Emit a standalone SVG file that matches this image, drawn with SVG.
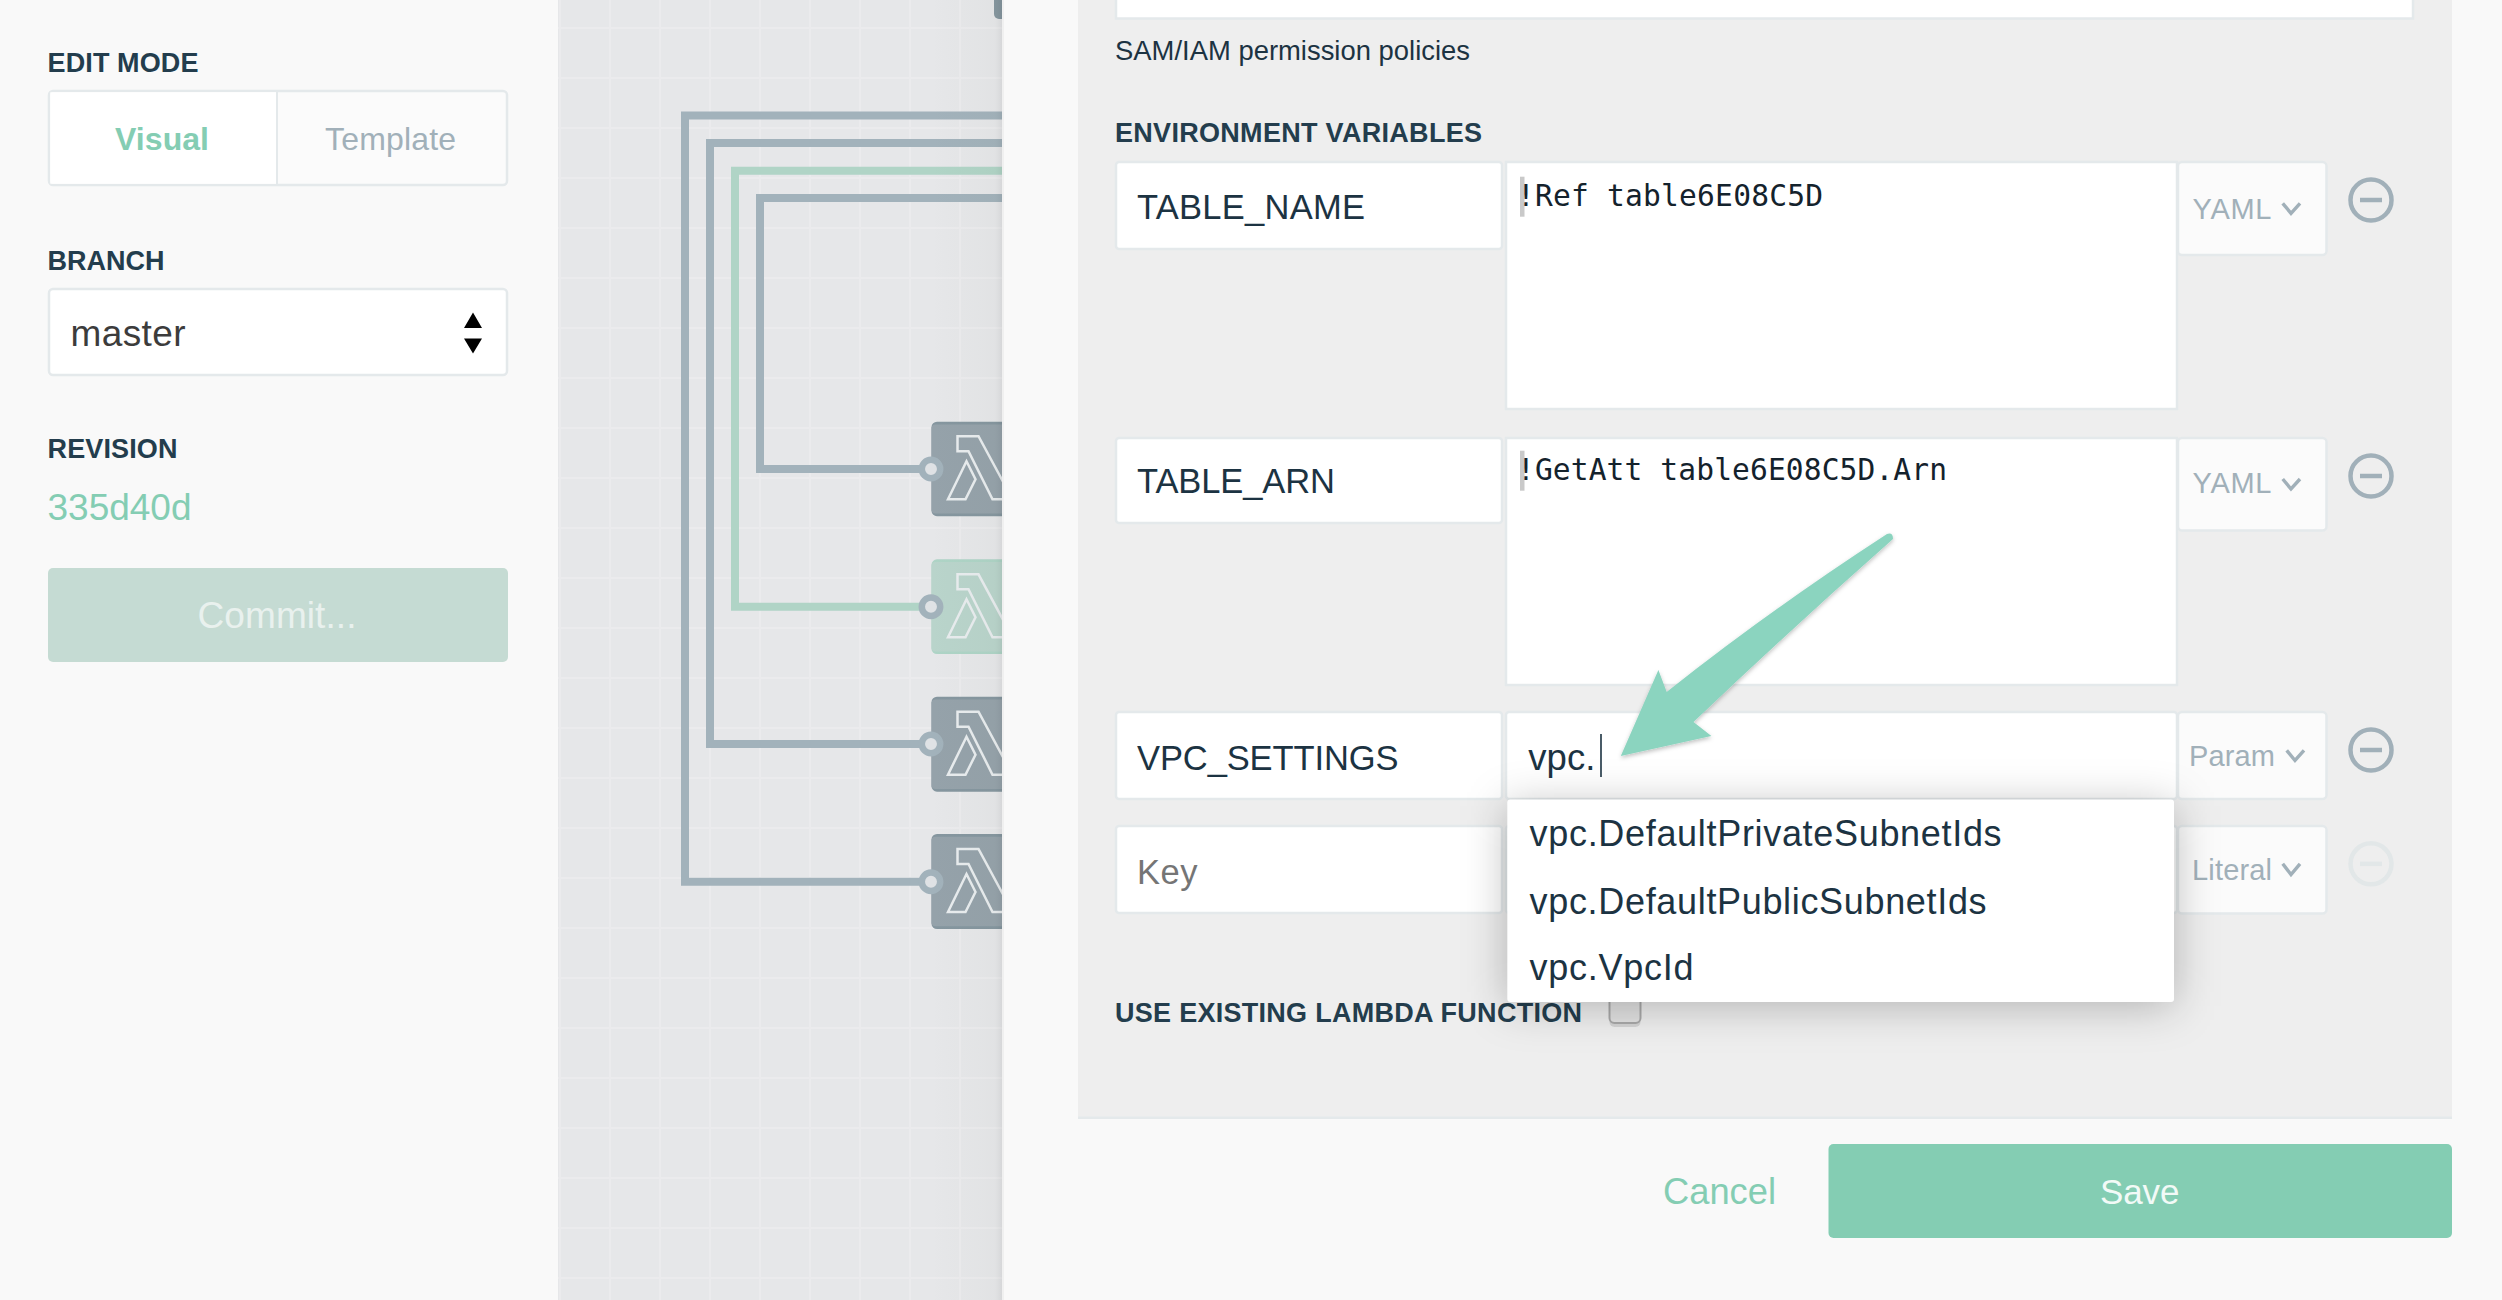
<svg xmlns="http://www.w3.org/2000/svg" width="2502" height="1300" viewBox="0 0 2502 1300">
<style>
text{font-family:"Liberation Sans",Arial,sans-serif}
.h{font-weight:700;font-size:27px;fill:#233d4d}
.k{font-size:34.5px;fill:#1c3342}
.m{font-family:"DejaVu Sans Mono",monospace;font-size:29.6px;fill:#14222c}
.t{font-size:29px;fill:#a1b0b9}
.i{font-size:36px;fill:#1c3342}
.box{fill:#fff;stroke:#e4e9eb;stroke-width:2.5}
.type{fill:#fbfbfb;stroke:#e4e9eb;stroke-width:2.5}
.wire{fill:none;stroke:#a2b2bb;stroke-width:8;stroke-linejoin:miter}
.wg{stroke:#b0d4c6}
.port{fill:#dfe2e5;stroke:#a2b2bb;stroke-width:6.5}
.nb{fill:#85969f}
.nf{fill:#95a2aa}
.lam{fill:none;stroke:#e8ecee;stroke-width:2.5}
.chev{fill:none;stroke:#a1b0b9;stroke-width:3.4}
.minus{fill:none;stroke:#a1b0b9;stroke-width:4.5}
.sel{fill:#c9c9c9}
.grid{stroke:#ebebed;stroke-width:2;fill:none}
</style>
<defs>
<linearGradient id="edge" x1="0" y1="0" x2="1" y2="0">
<stop offset="0" stop-color="#5a5f4f" stop-opacity="0"/>
<stop offset=".75" stop-color="#5a5f4f" stop-opacity=".025"/>
<stop offset=".9" stop-color="#5a5f4f" stop-opacity=".035"/>
<stop offset="1" stop-color="#000" stop-opacity=".07"/>
</linearGradient>
<filter id="dd" x="-30%" y="-60%" width="160%" height="240%"><feGaussianBlur stdDeviation="22"/></filter>
<filter id="as" x="-10%" y="-10%" width="120%" height="120%"><feDropShadow dx="0" dy="2" stdDeviation="2" flood-color="#000" flood-opacity=".25"/></filter>
<g id="lambda">
<path class="lam" d="M26,15H47L81,78H61L37,30H26Z"/>
<path class="lam" d="M35,40L44,58L34,78H16.500Z"/>
</g>
</defs>

<rect id="background" width="2502" height="1300" fill="#f9f9f9"/>

<g id="canvas">
<rect x="558" width="444" height="1300" fill="#e6e7e9"/>
<path class="grid" d="M560,0V1300M610,0V1300M660,0V1300M710,0V1300M760,0V1300M810,0V1300M860,0V1300M910,0V1300M960,0V1300M558,28H1002M558,78H1002M558,128H1002M558,178H1002M558,228H1002M558,278H1002M558,328H1002M558,378H1002M558,428H1002M558,478H1002M558,528H1002M558,578H1002M558,628H1002M558,678H1002M558,728H1002M558,778H1002M558,828H1002M558,878H1002M558,928H1002M558,978H1002M558,1028H1002M558,1078H1002M558,1128H1002M558,1178H1002M558,1228H1002M558,1278H1002"/>
</g>

<g id="connectors">
<path class="wire" d="M931,881.700H685V115.500H1010"/>
<path class="wire" d="M931,744H710V143H1010"/>
<path class="wire wg" d="M931,606.700H735V170.700H1010"/>
<path class="wire" d="M931,469H760V198H1010"/>
</g>

<g id="node-top"><rect class="nb" x="994" y="-60" width="30" height="79" rx="5"/></g>
<g id="node-1">
<rect class="nb" x="931.500" y="421.700" width="90" height="94.500" rx="5.500"/>
<rect class="nf" x="931.500" y="424.500" width="90" height="89" rx="4"/>
<use href="#lambda" x="931.500" y="421.200"/>
<circle class="port" cx="931" cy="469" r="9.200"/>
</g>
<g id="node-2">
<rect fill="#aed4c6" x="931.500" y="559.300" width="90" height="94.700" rx="5.500"/>
<rect fill="#b9d4cb" x="931.500" y="562" width="90" height="89.500" rx="4"/>
<use href="#lambda" x="931.500" y="559.300"/>
<circle class="port" cx="931" cy="606.700" r="9.200"/>
</g>
<g id="node-3">
<rect class="nb" x="931.500" y="696.700" width="90" height="95" rx="5.500"/>
<rect class="nf" x="931.500" y="699.500" width="90" height="89.500" rx="4"/>
<use href="#lambda" x="931.500" y="696.700"/>
<circle class="port" cx="931" cy="744" r="9.200"/>
</g>
<g id="node-4">
<rect class="nb" x="931.500" y="834" width="90" height="95" rx="5.500"/>
<rect class="nf" x="931.500" y="836.800" width="90" height="89.500" rx="4"/>
<use href="#lambda" x="931.500" y="834"/>
<circle class="port" cx="931" cy="881.700" r="9.200"/>
</g>

<rect id="panel-edge" x="930" width="72" height="1300" fill="url(#edge)"/>

<g id="sidebar">
<rect width="558" height="1300" fill="#f9f9f9"/>
<text class="h" x="47.500" y="71.500" textLength="151">EDIT MODE</text>
<g id="edit-mode">
<rect class="type" x="49" y="91" width="458" height="94" rx="4" fill="#fafafa"/>
<path d="M50.300,92.300H277V183.700H50.300Z" fill="#fff"/>
<path d="M277,92V184" stroke="#e4e9eb" stroke-width="2"/>
<text x="162" y="149.500" text-anchor="middle" font-size="32" font-weight="700" fill="#84cdb3" textLength="94">Visual</text>
<text x="390.500" y="149.500" text-anchor="middle" font-size="32" fill="#a1b0b9" textLength="131">Template</text>
</g>
<text class="h" x="47.500" y="269.500" textLength="117">BRANCH</text>
<g id="branch">
<rect class="box" x="49" y="289" width="458" height="86" rx="4"/>
<text x="70.500" y="346" font-size="37" fill="#3c3c3c" textLength="115">master</text>
<path d="M473,312.500L482,328H464Z M464,338.500H482L473,353.500Z" fill="#000"/>
</g>
<text class="h" x="47.500" y="457.500" textLength="130">REVISION</text>
<text x="47.500" y="519.500" font-size="37" fill="#84cdb3" textLength="144">335d40d</text>
<g id="commit">
<rect x="48" y="568" width="460" height="94" rx="5" fill="#c5dbd3"/>
<text x="277" y="627.500" text-anchor="middle" font-size="37" fill="#e9f1ee" textLength="159">Commit...</text>
</g>
</g>

<g id="panel">
<rect x="1002" width="1500" height="1300" fill="#f9f9f9"/>
<rect x="1002" width="2" height="1300" fill="#f0f0f0"/>
<rect x="1078" width="1374" height="1117" fill="#eeeeee"/>
<rect x="1078" y="1116.500" width="1374" height="2.500" fill="#e4e9eb"/>
<rect class="box" x="1116" y="-10" width="1297" height="28.500"/>
<text x="1115" y="60" font-size="27.400" fill="#1c3342" textLength="355">SAM/IAM permission policies</text>
<text class="h" x="1115" y="141.700" textLength="367">ENVIRONMENT VARIABLES</text>

<g id="row-table-name">
<rect class="box" x="1116" y="162" width="386" height="87" rx="3"/>
<text class="k" x="1137" y="219" textLength="228">TABLE_NAME</text>
<rect class="box" x="1506" y="162" width="671" height="247"/>
<rect class="sel" x="1520" y="176.700" width="4.500" height="40"/>
<text class="m" x="1517" y="206" textLength="306">!Ref table6E08C5D</text>
<rect class="type" x="2178" y="162" width="148.500" height="93" rx="4"/>
<text class="t" x="2192.500" y="219.300" textLength="79">YAML</text>
<path class="chev" d="M2282.700,203.300L2291,213.300L2300,203.300"/>
<circle class="minus" cx="2371" cy="200" r="20.500"/>
<path class="minus" d="M2360,200H2382"/>
</g>

<g id="row-table-arn">
<rect class="box" x="1116" y="438" width="386" height="85" rx="3"/>
<text class="k" x="1137" y="493" textLength="198">TABLE_ARN</text>
<rect class="box" x="1506" y="438" width="671" height="247"/>
<rect class="sel" x="1520" y="450.700" width="4.500" height="40"/>
<text class="m" x="1517" y="480" textLength="430">!GetAtt table6E08C5D.Arn</text>
<rect class="type" x="2178" y="438" width="148.500" height="92.500" rx="4"/>
<text class="t" x="2192.500" y="493.300" textLength="79">YAML</text>
<path class="chev" d="M2282.700,479L2291,489L2300,479"/>
<circle class="minus" cx="2371" cy="476" r="20.500"/>
<path class="minus" d="M2360,476H2382"/>
</g>

<g id="row-vpc">
<rect class="box" x="1116" y="712" width="386" height="87" rx="3"/>
<text class="k" x="1137" y="769.500" textLength="261.500">VPC_SETTINGS</text>
<rect class="box" x="1506" y="712" width="671" height="87" rx="3"/>
<text x="1528.300" y="769.500" font-size="36.500" fill="#1c3342" textLength="67">vpc.</text>
<path d="M1601,734V777" stroke="#1c3342" stroke-width="1.600"/>
<rect class="type" x="2178" y="712" width="148.500" height="87" rx="4"/>
<text class="t" x="2189" y="766" textLength="86">Param</text>
<path class="chev" d="M2286.700,750.400L2295,760.500L2304,750.400"/>
<circle class="minus" cx="2371" cy="750" r="20.500"/>
<path class="minus" d="M2360,750H2382"/>
</g>

<g id="row-new">
<rect class="box" x="1116" y="826" width="386" height="87" rx="3"/>
<text class="k" x="1137" y="883.500" fill="#757575" style="fill:#757575" textLength="60.500">Key</text>
<rect class="box" x="1506" y="826" width="671" height="87" rx="3"/>
<rect class="type" x="2178" y="826" width="148.500" height="87.500" rx="4"/>
<text class="t" x="2192" y="880" textLength="80">Literal</text>
<path class="chev" d="M2282.700,863.800L2291,874.500L2300,863.800"/>
<circle class="minus" style="stroke:#e2e7e8" cx="2371" cy="863.800" r="20.500"/>
<path class="minus" style="stroke:#e2e7e8" d="M2360,863.800H2382"/>
</g>

<g id="use-existing">
<text class="h" x="1115" y="1022" textLength="467">USE EXISTING LAMBDA FUNCTION</text>
<rect x="1609.500" y="985" width="31" height="42" rx="5" fill="#d4d4d4"/>
<rect x="1609.500" y="985" width="31" height="38" rx="5" fill="#e2e2e2" stroke="#a9a9a9" stroke-width="2"/>
</g>

<g id="cancel"><text x="1663" y="1203.800" font-size="36.300" fill="#84cdb3" textLength="113">Cancel</text></g>
<g id="save">
<rect x="1828.500" y="1144" width="623.500" height="94" rx="5" fill="#84cdb3"/>
<text x="2139.700" y="1203.800" text-anchor="middle" font-size="35" fill="#f2faf7" textLength="79.300">Save</text>
</g>

<g id="dropdown">
<rect x="1507" y="806" width="667" height="200" fill="#000" fill-opacity=".26" filter="url(#dd)"/>
<rect x="1507.300" y="799.500" width="666.700" height="202.500" rx="3" fill="#fff"/>
<text class="i" x="1529.600" y="845.800" textLength="472">vpc.DefaultPrivateSubnetIds</text>
<text class="i" x="1529.600" y="913.500" textLength="457">vpc.DefaultPublicSubnetIds</text>
<text class="i" x="1529.600" y="979.800" textLength="164">vpc.VpcId</text>
</g>

<path id="callout-arrow" filter="url(#as)" fill="#8bd4bf" d="M1620.800,756L1658.400,670L1666.700,692Q1770,610 1887,534Q1893,532 1893,539Q1790,630 1693.500,722L1711.400,736Z"/>
</g>
</svg>
